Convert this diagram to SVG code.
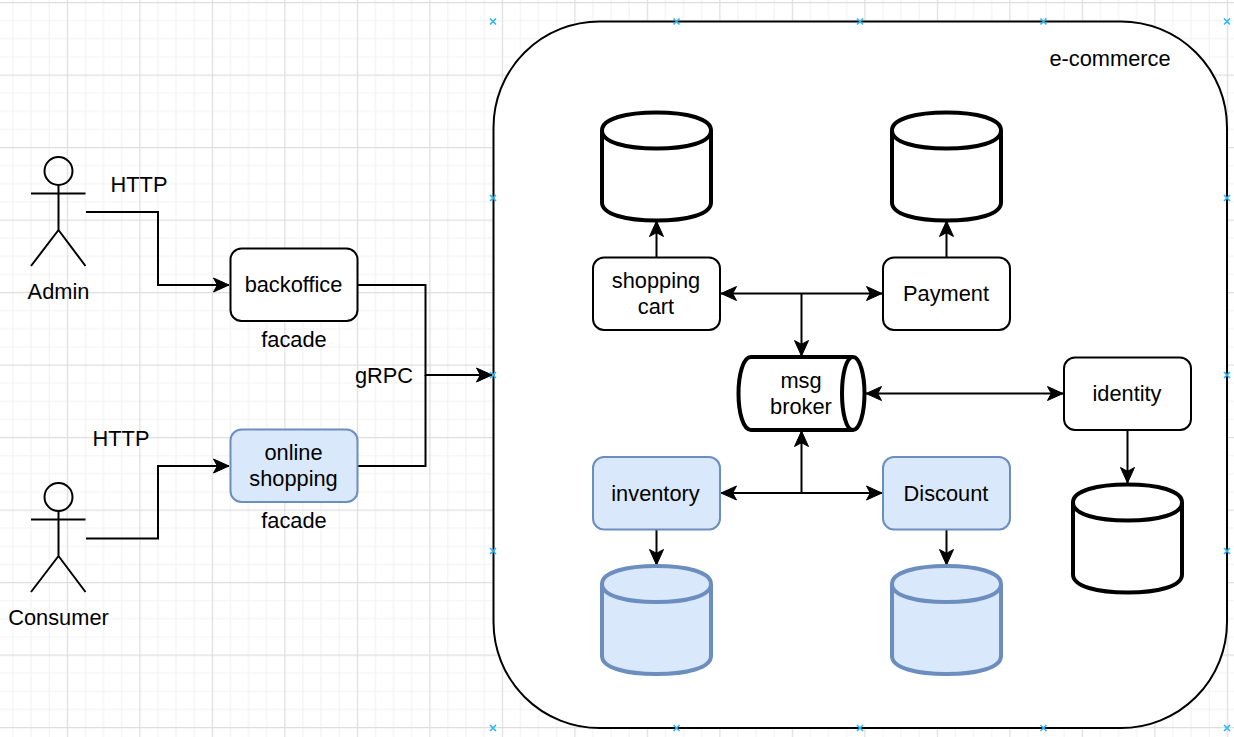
<svg xmlns="http://www.w3.org/2000/svg" width="1234" height="737" viewBox="0 0 1234 737">
<style>
text{font-family:"Liberation Sans",Arial,sans-serif;font-size:21.8px;fill:#000;text-anchor:middle}
.box{fill:#fff;stroke:#000;stroke-width:2}
.blue{fill:#dae8fc;stroke:#6c8ebf;stroke-width:2}
.cyl{fill:#fff;stroke:#000;stroke-width:4;stroke-linejoin:round}
.cylb{fill:#dae8fc;stroke:#6c8ebf;stroke-width:4;stroke-linejoin:round}
.line{fill:none;stroke:#000;stroke-width:2}
.actor{fill:none;stroke:#000;stroke-width:2}
.mk{fill:none;stroke:#29b6f2;stroke-width:1.6}
</style>
<defs>
<pattern id="grid" width="72.5" height="72.5" patternUnits="userSpaceOnUse" x="-5.7" y="2">
<path d="M18.625 0V72.5M36.75 0V72.5M54.875 0V72.5M0 18.625H72.5M0 36.75H72.5M0 54.875H72.5" fill="none" stroke="#f2f2f2" stroke-width="1.2"/>
<path d="M.5 0V72.5M0 .5H72.5" fill="none" stroke="#dedede" stroke-width="1.500"/>
</pattern>
<marker id="end" markerUnits="userSpaceOnUse" markerWidth="20" markerHeight="18" refX="16.500" refY="9" orient="auto-start-reverse">
<path d="M1 2L16.500 9L1 16L4.800 9Z" fill="#000" stroke="#000" stroke-width="1"/>
</marker>
<path id="x" d="M-3 -3L3 3M-3 3L3 -3" class="mk"/>
<g id="cy">
<path d="M0 18C0 6 24.500 0 54.500 0S109 6 109 18V90C109 102 84.500 108 54.500 108S0 102 0 90Z"/>
<path d="M0 18C0 30 24.500 36 54.500 36S109 30 109 18" fill="none"/>
</g>
</defs>
<rect width="1234" height="737" fill="#fff"/>
<rect width="1234" height="737" fill="url(#grid)"/>
<g id="container">
<rect x="493.500" y="21.500" width="733.500" height="706.500" rx="106" ry="106" class="box"/>
<text x="1110" y="66">e-commerce</text>
</g>
<g id="ports">
<use href="#x" x="493" y="21.500"/><use href="#x" x="676.500" y="21.500"/><use href="#x" x="860" y="21.500"/><use href="#x" x="1043.500" y="21.500"/><use href="#x" x="1227" y="21.500"/>
<use href="#x" x="493" y="198"/><use href="#x" x="1227" y="198"/>
<use href="#x" x="493" y="375"/><use href="#x" x="1227" y="375"/>
<use href="#x" x="493" y="551"/><use href="#x" x="1227" y="551"/>
<use href="#x" x="493" y="728"/><use href="#x" x="676.500" y="728"/><use href="#x" x="860" y="728"/><use href="#x" x="1043.500" y="728"/><use href="#x" x="1227" y="728"/>
</g>
<g id="connectors">
<path class="line" d="M86 212H158V285H229" marker-end="url(#end)"/>
<path class="line" d="M86 538.500H158V466H229" marker-end="url(#end)"/>
<path class="line" d="M357 285H425.500V375H492" marker-end="url(#end)"/>
<path class="line" d="M357 466H425.500V375"/>
<path class="line" d="M656.500 257V221" marker-end="url(#end)"/>
<path class="line" d="M946.500 257V221" marker-end="url(#end)"/>
<path class="line" d="M721 293.500H882" marker-start="url(#end)" marker-end="url(#end)"/>
<path class="line" d="M801.500 293.500V356" marker-end="url(#end)"/>
<path class="line" d="M721 493H882" marker-start="url(#end)" marker-end="url(#end)"/>
<path class="line" d="M801.500 493V431" marker-end="url(#end)"/>
<path class="line" d="M866 393.500H1063" marker-start="url(#end)" marker-end="url(#end)"/>
<path class="line" d="M1127.500 430V483" marker-end="url(#end)"/>
<path class="line" d="M656.500 529V565" marker-end="url(#end)"/>
<path class="line" d="M946.500 529V565" marker-end="url(#end)"/>
</g>
<g id="admin">
<g class="actor"><circle cx="58.500" cy="171" r="14"/><path d="M58.500 185V230M31 193.500H85.500M58.500 230L31 266M58.500 230L85.500 266"/></g>
<text x="58.500" y="298.500">Admin</text>
</g>
<g id="consumer">
<g class="actor"><circle cx="58.500" cy="497" r="14"/><path d="M58.500 511V556M31 519.500H85.500M58.500 556L31 592M58.500 556L85.500 592"/></g>
<text x="58.500" y="624.500">Consumer</text>
</g>
<g id="label-http-1"><text x="139" y="191.500">HTTP</text></g>
<g id="label-http-2"><text x="121" y="445.500">HTTP</text></g>
<g id="label-grpc"><text x="384" y="382.500">gRPC</text></g>
<g id="backoffice">
<rect class="box" x="230.500" y="248.500" width="127" height="72.500" rx="11"/>
<text x="293.500" y="291.500">backoffice</text>
<text x="294" y="346.500">facade</text>
</g>
<g id="online-shopping">
<rect class="blue" x="230.500" y="429.500" width="127" height="72.500" rx="11"/>
<text x="293.500" y="460">online</text>
<text x="293.500" y="486">shopping</text>
<text x="294" y="527.500">facade</text>
</g>
<g id="shopping-cart">
<rect class="box" x="593" y="257.500" width="127" height="72.500" rx="11"/>
<text x="656" y="288">shopping</text>
<text x="656" y="314">cart</text>
</g>
<g id="payment">
<rect class="box" x="883" y="257.500" width="127" height="72.500" rx="11"/>
<text x="946" y="301">Payment</text>
</g>
<g id="inventory">
<rect class="blue" x="593" y="457" width="127" height="72.500" rx="11"/>
<text x="655.500" y="501">inventory</text>
</g>
<g id="discount">
<rect class="blue" x="883" y="457" width="127" height="72.500" rx="11"/>
<text x="946" y="501">Discount</text>
</g>
<g id="identity">
<rect class="box" x="1064" y="357.500" width="127" height="72.500" rx="11"/>
<text x="1127" y="401">identity</text>
</g>
<g id="msg-broker">
<path class="cyl" d="M751 357H853C860 357 864.500 375 864.500 393.500S860 430 853 430H751C743 430 738.500 412 738.500 393.500S743 357 751 357Z"/>
<path class="cyl" style="fill:none" d="M853 357C846 357 842 375 842 393.500S846 430 853 430"/>
<text x="801" y="388">msg</text>
<text x="801" y="414">broker</text>
</g>
<g id="db-cart"><use href="#cy" class="cyl" x="602" y="112.500"/></g>
<g id="db-payment"><use href="#cy" class="cyl" x="892" y="112.500"/></g>
<g id="db-inventory"><use href="#cy" class="cylb" x="602" y="566"/></g>
<g id="db-discount"><use href="#cy" class="cylb" x="892" y="566"/></g>
<g id="db-identity"><use href="#cy" class="cyl" x="1073" y="484.500"/></g>
</svg>
